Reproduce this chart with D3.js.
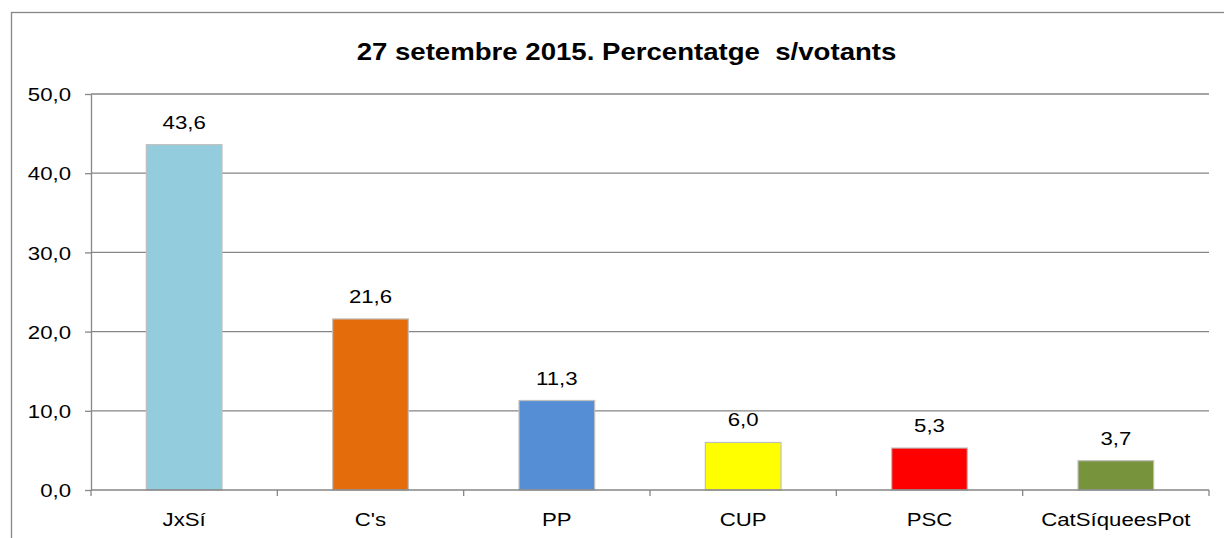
<!DOCTYPE html>
<html>
<head>
<meta charset="utf-8">
<script src="https://cdn.jsdelivr.net/npm/d3@7"></script>
<style>
  body { margin: 0; background: #fff; }
  text { font-family: "Liberation Sans", Arial, sans-serif; fill: #000; }
</style>
</head>
<body>
<div id="chart"></div>
<script>
// data
const parties = ["JxSí", "C's", "PP", "CUP", "PSC", "CatSíqueesPot"];
const percents = [43.6, 21.6, 11.3, 6.0, 5.3, 3.7];
const barColors = ["#93cddd", "#e46c0a", "#558ed5", "#ffff00", "#ff0000", "#77933c"];
const yTicks = [0, 10, 20, 30, 40, 50];
const title = "27 setembre 2015. Percentatge  s/votants";

const W = 1224, H = 538;
const SX = 1.2; // the original picture is stretched sideways, text too
const FS = 18.5;
const fmt = v => v.toFixed(1).replace(".", ",");
const wide = (cx, cy) => `translate(${cx},${cy}) scale(${SX},1)`;

const svg = d3.select("#chart").append("svg")
  .attr("width", W)
  .attr("height", H);

// outer chart border (bottom/right fall outside the picture)
svg.append("rect")
  .attr("x", 11.5).attr("y", 12.5)
  .attr("width", W).attr("height", H)
  .attr("fill", "none")
  .attr("stroke", "#868686")
  .attr("stroke-width", 1.3);

svg.append("text")
  .attr("transform", wide(626.5, 60))
  .attr("text-anchor", "middle")
  .style("white-space", "pre")
  .attr("font-size", 23)
  .attr("font-weight", "bold")
  .text(title);

const x = d3.scaleBand().domain(parties).range([91, 1209]).paddingInner(0.594).paddingOuter(0.297);
const y = d3.scaleLinear().domain([0, 50]).range([490, 94]);

// gridlines
svg.append("g").selectAll("line")
  .data(yTicks.filter(d => d > 0))
  .enter().append("line")
  .attr("x1", 91).attr("x2", 1209)
  .attr("y1", d => y(d)).attr("y2", d => y(d))
  .attr("stroke", "#868686")
  .attr("stroke-width", 1.3);

// y axis
const yAxis = svg.append("g")
  .attr("transform", "translate(91,0)")
  .call(d3.axisLeft(y).tickValues(yTicks).tickFormat(fmt).tickSize(6).tickSizeOuter(0));
yAxis.select(".domain").attr("stroke", "#868686").attr("stroke-width", 1.3);
yAxis.selectAll(".tick line").attr("stroke", "#868686").attr("stroke-width", 1.3);
yAxis.selectAll(".tick text")
  .attr("font-size", FS)
  .attr("font-family", "Liberation Sans, Arial, sans-serif")
  .attr("fill", "#000")
  .attr("x", 0)
  .attr("dy", "0.36em")
  .attr("transform", `translate(-20,0) scale(${SX},1)`);

// bars
svg.selectAll(".bar")
  .data(parties)
  .enter().append("rect")
  .attr("class", "bar")
  .attr("x", d => x(d))
  .attr("width", x.bandwidth())
  .attr("y", (d, i) => y(percents[i]))
  .attr("height", (d, i) => y(0) - y(percents[i]))
  .attr("fill", (d, i) => barColors[i])
  .attr("stroke", "#bfbfbf")
  .attr("stroke-width", 1.2);

// value labels
svg.selectAll(".val")
  .data(parties)
  .enter().append("text")
  .attr("class", "val")
  .attr("transform", (d, i) => wide(x(d) + x.bandwidth() / 2, y(percents[i]) - 16))
  .attr("text-anchor", "middle")
  .attr("font-size", FS)
  .text((d, i) => fmt(percents[i]));

// x axis with ticks between categories
const xBounds = d3.range(parties.length + 1).map(i => 91 + i * (1209 - 91) / parties.length);
svg.append("line")
  .attr("x1", 91).attr("x2", 1209)
  .attr("y1", 490).attr("y2", 490)
  .attr("stroke", "#868686").attr("stroke-width", 1.3);
svg.append("g").selectAll("line")
  .data(xBounds)
  .enter().append("line")
  .attr("x1", d => d).attr("x2", d => d)
  .attr("y1", 490).attr("y2", 496)
  .attr("stroke", "#868686").attr("stroke-width", 1.3);
svg.selectAll(".cat")
  .data(parties)
  .enter().append("text")
  .attr("class", "cat")
  .attr("transform", d => wide(x(d) + x.bandwidth() / 2, 526))
  .attr("text-anchor", "middle")
  .attr("font-size", FS)
  .text(d => d);
</script>
</body>
</html>
